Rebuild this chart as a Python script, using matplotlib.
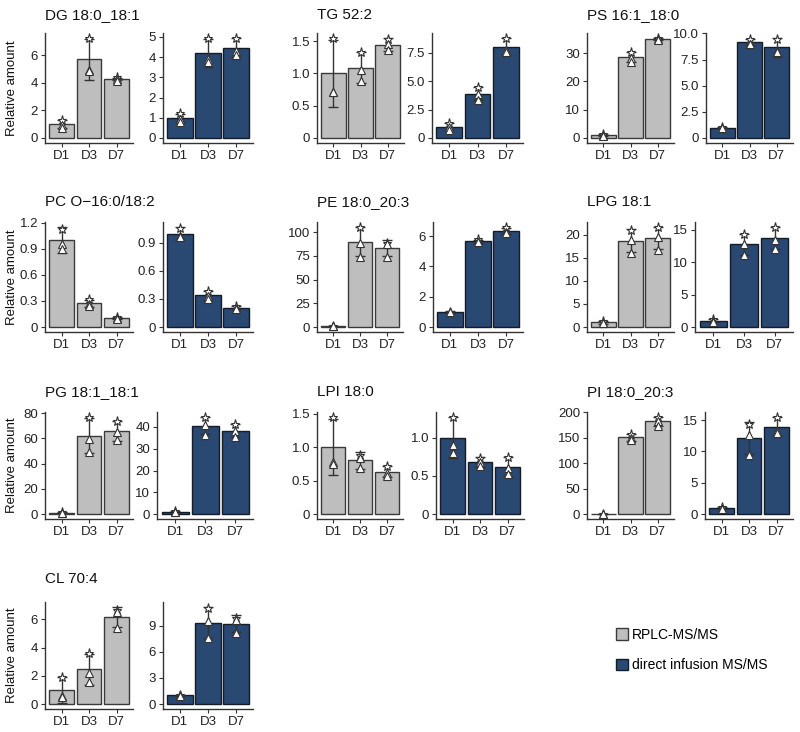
import matplotlib
matplotlib.use('Agg')
import matplotlib.pyplot as plt
from matplotlib.patches import Patch
import matplotlib.font_manager as fm

avail = {f.name for f in fm.fontManager.ttflist}
tick_font = 'Liberation Sans Narrow' if 'Liberation Sans Narrow' in avail else 'Liberation Sans'
plt.rcParams['font.family'] = ['Liberation Sans', 'DejaVu Sans']

# ---------------- data ----------------
lipids = ['DG 18:0_18:1', 'TG 52:2', 'PS 16:1_18:0',
          'PC O\u221216:0/18:2', 'PE 18:0_20:3', 'LPG 18:1',
          'PG 18:1_18:1', 'LPI 18:0', 'PI 18:0_20:3', 'CL 70:4']
days = ['D1', 'D3', 'D7']
series_labels = ['RPLC-MS/MS', 'direct infusion MS/MS']

rplc_means = [[1.0, 5.7, 4.28], [1.0, 1.09, 1.446], [1.0, 28.5, 34.9],
              [1.0, 0.274, 0.1], [1.0, 89.9, 83.4], [1.0, 18.7, 19.25],
              [1.0, 62.2, 65.7], [1.0, 0.8, 0.635], [1.0, 150.7, 182.0],
              [1.0, 2.48, 6.19]]
rplc_sd = [[0.28, 1.5, 0.1], [0.52, 0.24, 0.1], [0.3, 1.8, 0.4],
           [0.15, 0.04, 0.01], [0.2, 15.5, 8.5], [0.3, 2.5, 2.4],
           [0.3, 14.0, 8.0], [0.42, 0.12, 0.08], [0.2, 7.0, 9.0],
           [0.9, 1.1, 0.7]]
rplc_points = [
    [[1.3, 0.95, 0.75], [7.25, 4.95, 4.85], [4.4, 4.3, 4.15]],
    [[1.55, 0.72, 0.72], [1.33, 1.05, 0.88], [1.53, 1.45, 1.36]],
    [[1.3, 0.9, 0.8], [30.2, 28.2, 27.0], [35.3, 34.9, 34.5]],
    [[1.13, 0.95, 0.9], [0.32, 0.26, 0.245], [0.11, 0.1, 0.09]],
    [[1.2, 0.9, 0.9], [105.0, 89.0, 74.0], [89.0, 87.0, 74.0]],
    [[1.2, 0.95, 0.85], [21.1, 18.9, 16.1], [21.6, 19.5, 16.6]],
    [[1.3, 0.9, 0.8], [77.0, 59.6, 49.5], [73.7, 65.0, 58.3]],
    [[1.45, 0.78, 0.74], [0.88, 0.83, 0.69], [0.72, 0.62, 0.57]],
    [[1.2, 0.9, 0.9], [158.0, 149.0, 145.0], [191.0, 182.0, 174.0]],
    [[1.95, 0.55, 0.5], [3.62, 2.2, 1.6], [6.65, 6.55, 5.4]],
]
di_means = [[1.0, 4.21, 4.47], [0.98, 3.9, 8.05], [1.0, 9.15, 8.66],
            [1.0, 0.338, 0.208], [1.0, 5.66, 6.36], [1.0, 12.8, 13.7],
            [1.0, 40.6, 38.3], [1.0, 0.68, 0.62], [1.0, 12.15, 13.9],
            [1.0, 9.35, 9.24]]
di_sd = [[0.2, 0.7, 0.48], [0.3, 0.6, 0.75], [0.08, 0.3, 0.9],
         [0.07, 0.05, 0.02], [0.05, 0.1, 0.2], [0.25, 1.6, 1.7],
         [0.3, 4.0, 3.0], [0.27, 0.06, 0.12], [0.2, 2.5, 1.5],
         [0.1, 1.8, 1.0]]
di_points = [
    [[1.25, 0.95, 0.8], [4.95, 3.92, 3.75], [4.95, 4.3, 4.1]],
    [[1.3, 0.95, 0.7], [4.45, 3.9, 3.35], [8.8, 7.7, 7.6]],
    [[1.05, 1.0, 0.95], [9.45, 9.0, 9.0], [9.45, 8.3, 8.2]],
    [[1.06, 0.97, 0.96], [0.39, 0.33, 0.3], [0.225, 0.205, 0.195]],
    [[1.02, 1.0, 0.98], [5.8, 5.62, 5.6], [6.6, 6.3, 6.18]],
    [[1.25, 1.0, 0.75], [14.3, 12.9, 11.1], [15.45, 13.45, 12.1]],
    [[1.3, 0.9, 0.8], [44.5, 41.0, 36.3], [41.4, 38.2, 35.3]],
    [[1.27, 0.9, 0.8], [0.73, 0.68, 0.63], [0.74, 0.6, 0.52]],
    [[1.2, 1.0, 0.8], [14.35, 12.6, 9.5], [15.5, 13.3, 12.9]],
    [[1.05, 1.0, 0.95], [11.0, 9.5, 7.6], [9.9, 9.65, 8.2]],
]
rplc_ticks = [['0', '2', '4', '6'], ['0', '0.5', '1.0', '1.5'],
              ['0', '10', '20', '30'], ['0', '0.3', '0.6', '0.9', '1.2'],
              ['0', '25', '50', '75', '100'], ['0', '5', '10', '15', '20'],
              ['0', '20', '40', '60', '80'], ['0', '0.5', '1.0', '1.5'],
              ['0', '50', '100', '150', '200'], ['0', '2', '4', '6']]
di_ticks = [['0', '1', '2', '3', '4', '5'], ['0', '2.5', '5.0', '7.5'],
            ['0', '2.5', '5.0', '7.5', '10.0'], ['0', '0.3', '0.6', '0.9'],
            ['0', '2', '4', '6'], ['0', '5', '10', '15'],
            ['0', '10', '20', '30', '40'], ['0', '0.5', '1.0'],
            ['0', '5', '10', '15'], ['0', '3', '6', '9']]

# ---------------- style / layout ----------------
W, H = 800, 732
GRAY = '#BEBEBE'
BLUE = '#294872'
colors = [GRAY, BLUE]
edges = ['#3a3a3a', '#141c28']
point_markers = ['*', '^', '^']

panel_x = [(45, 133, 163, 253), (317, 404, 432, 523), (587, 674, 706, 793),
           (45, 133, 163, 253), (317, 403, 433, 523), (587, 674, 695, 793),
           (45, 133, 157, 253), (317, 403, 436, 524), (587, 674, 705, 793),
           (45, 133, 163, 253)]
row_y = [(33, 143), (222, 332), (412, 519), (602, 709)]
title_y = [15, 202, 392, 579]

fig = plt.figure(figsize=(W / 100, H / 100), dpi=100)


def px_rect(x0, x1, y0, y1):
    return [x0 / W, 1 - y1 / H, (x1 - x0) / W, (y1 - y0) / H]


def draw_panel(ax, means, sds, pts, ticks, color, edge):
    xs = list(range(1, len(days) + 1))
    ax.bar(xs, means, width=0.9, color=color, edgecolor=edge, linewidth=1.0, zorder=2)
    ax.errorbar(xs, means, yerr=sds, fmt='none', ecolor='#333333',
                elinewidth=1.0, capsize=3.5, capthick=1.0, zorder=3)
    for x, vals in zip(xs, pts):
        for v, m in zip(vals, point_markers):
            ax.plot([x], [v], marker=m, markersize=6.5 if m == '*' else 5.5,
                    markerfacecolor='white', markeredgecolor='#333333',
                    markeredgewidth=0.8, linestyle='none', zorder=4)
    top = max(max(m + s for m, s in zip(means, sds)),
              max(max(v) for v in pts))
    ax.set_ylim(-0.05 * top, 1.05 * top)
    ax.set_xlim(0.4, 3.6)
    ax.set_xticks(xs)
    ax.set_xticklabels(days)
    ax.set_yticks([float(t) for t in ticks])
    ax.set_yticklabels(ticks)
    for s in ['top', 'right']:
        ax.spines[s].set_visible(False)
    for s in ['left', 'bottom']:
        ax.spines[s].set_color('#333333')
        ax.spines[s].set_linewidth(1.0)
    ax.tick_params(axis='both', length=3, width=0.8, color='#333333',
                   labelsize=9.5, labelcolor='#222222', pad=2)
    for lab in ax.get_xticklabels() + ax.get_yticklabels():
        lab.set_family([tick_font, 'DejaVu Sans'])


for i, name in enumerate(lipids):
    r = i // 3
    y0, y1 = row_y[r]
    L0, L1, R0, R1 = panel_x[i]
    axL = fig.add_axes(px_rect(L0, L1, y0, y1))
    draw_panel(axL, rplc_means[i], rplc_sd[i], rplc_points[i], rplc_ticks[i],
               colors[0], edges[0])
    axR = fig.add_axes(px_rect(R0, R1, y0, y1))
    draw_panel(axR, di_means[i], di_sd[i], di_points[i], di_ticks[i],
               colors[1], edges[1])
    fig.text(L0 / W, 1 - title_y[r] / H, name, ha='left', va='center',
             fontsize=11, color='#111111')
    if i % 3 == 0:
        fig.text(12 / W, 1 - (y0 + y1) / 2 / H, 'Relative amount', rotation=90,
                 ha='center', va='center', fontsize=9.5, color='#111111',
                 family=[tick_font, 'DejaVu Sans'])

handles = [Patch(facecolor=colors[k], edgecolor=edges[k], linewidth=1.0)
           for k in range(2)]
fig.legend(handles, series_labels, loc='upper left',
           bbox_to_anchor=(610 / W, 1 - 622 / H), frameon=False,
           fontsize=10, handlelength=0.9, handleheight=0.9,
           handletextpad=0.3, labelspacing=1.2, borderaxespad=0)

fig.savefig('out.png', dpi=100)
